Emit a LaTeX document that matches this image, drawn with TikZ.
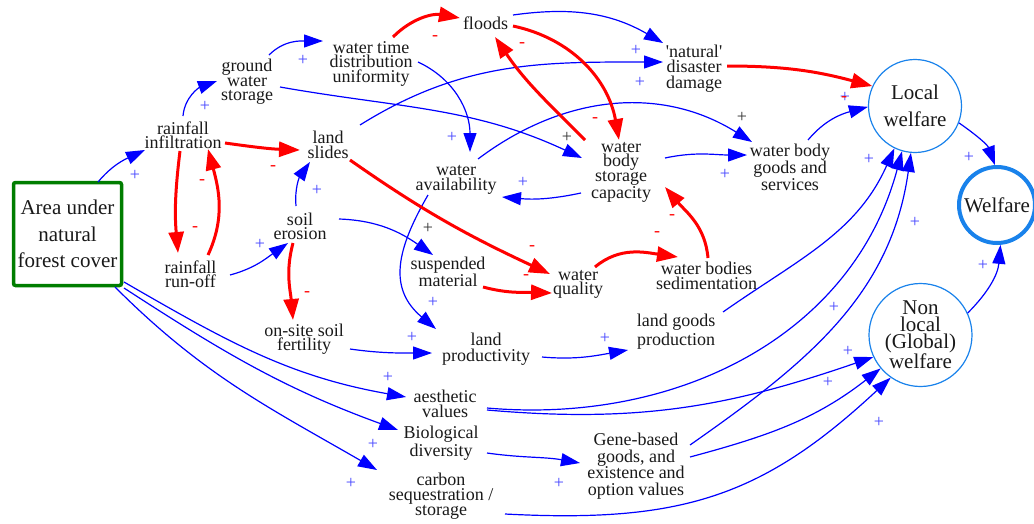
\documentclass[tikz,border=0pt]{standalone}
\usepackage{fontspec}
\setmainfont{Liberation Serif}
\usetikzlibrary{arrows.meta}
\definecolor{cblue}{RGB}{25,130,235}
\definecolor{lblue}{RGB}{70,70,255}
\definecolor{fgreen}{RGB}{0,125,0}
\begin{document}
\begin{tikzpicture}[x=1pt,y=1pt,
  var/.style={align=center, inner sep=1pt, text=black!90,
    font=\fontsize{18}{#1}\selectfont},
  var/.default=15,
  welf/.style={circle, draw=cblue, line width=1.2pt, align=center, inner sep=0pt,
    text=black!90, font=\fontsize{21}{#1}\selectfont},
  welf/.default=27,
  plink/.style={draw=blue, line width=1.2pt, -{Triangle[length=19pt,width=13pt]}},
  nlink/.style={draw=red, line width=3pt, -{Triangle[length=21pt,width=15pt]}},
  pp/.style={inner sep=0pt, text=lblue, font=\fontsize{18}{18}\selectfont},
  pk/.style={inner sep=0pt, text=black!80, font=\fontsize{18}{18}\selectfont},
  pm/.style={inner sep=0pt, text=red, font=\fontsize{18}{18}\selectfont},
]
\useasboundingbox (0,0) rectangle (1034,-523);

% ---- variables ----
\node[draw=fgreen, line width=3.5pt, rounded corners=2pt, minimum width=108pt,
      minimum height=103pt, align=center, text=black!90,
      font=\fontsize{21}{26.5}\selectfont] (forest) at (67.5,-234)
      {Area under\\natural\\forest cover};
\node[var=14] (infil) at (183,-135) {rainfall\\infiltration};
\node[var=14] (ground) at (247,-82) {ground\\water\\storage};
\node[var=14.5] (wtd) at (371,-63.5) {water time\\distribution\\uniformity};
\node[var] (floods) at (485.5,-23) {floods};
\node[var=15.5] (ndd) at (694,-68.5) {\textquotesingle natural\textquotesingle\\disaster\\damage};
\node[var=15.3] (ls) at (328,-145) {land\\slides};
\node[var=14] (runoff) at (190.5,-274.7) {rainfall\\run-off};
\node[var=14] (erosion) at (300,-226.5) {soil\\erosion};
\node[var=14] (fert) at (304,-339) {on-site soil\\fertility};
\node[var=15.7] (wa) at (456,-180) {water\\availability};
\node[var=14] (wbsc) at (621,-172) {water\\body\\storage\\capacity};
\node[var=14.2] (wbgs) at (790,-167) {water body\\goods and\\services};
\node[var=13] (susp) at (448,-272) {suspended\\material};
\node[var=14] (wq) at (578,-284) {water\\quality};
\node[var=15.3] (wbs) at (706.5,-276) {water bodies\\sedimentation};
\node[var=16] (lp) at (486,-349) {land\\productivity};
\node[var=19.3] (lgp) at (676,-332) {land goods\\production};
\node[var=15] (aes) at (445,-404) {aesthetic\\values};
\node[var=18.3] (bio) at (441,-443) {Biological\\diversity};
\node[var=15] (carbon) at (441,-496) {carbon\\sequestration /\\storage};
\node[var=16.5] (gene) at (636,-466) {Gene-based\\goods, and\\existence and\\option values};
\node[welf, minimum size=93pt] (LW) at (915,-106) {Local\\welfare};
\node[welf=17, minimum size=103pt] (NL) at (920.5,-335) {Non\\local\\(Global)\\welfare};
\node[welf, line width=4pt, minimum size=76pt] (W) at (997,-205) {Welfare};

% ---- positive links ----
\draw[plink] ([shift={(30.5,52)}]forest.center) to[out=50,in=205] ([shift={(-38,-15)}]infil.center);
\draw[plink] ([shift={(0,19)}]infil.center) to[out=85,in=200] ([shift={(-30,1)}]ground.center);
\draw[plink] ([shift={(22,27)}]ground.center) to[out=45,in=180] ([shift={(-48,22.5)}]wtd.center);
\draw[plink] ([shift={(33,-5)}]ground.center) to[out=-10,in=155] ([shift={(-39,14)}]wbsc.center);
\draw[plink] ([shift={(39.5,-0.3)}]runoff.center) to[out=15,in=215] ([shift={(-12,-16.5)}]erosion.center);
\draw[plink] ([shift={(-4,20.5)}]erosion.center) to[out=95,in=235] ([shift={(-18,-17)}]ls.center);
\draw[plink] ([shift={(39,7.5)}]erosion.center) to[out=-2,in=145] ([shift={(-15,17)}]susp.center);
\draw[plink] ([shift={(32,20)}]ls.center) to[out=32,in=180] ([shift={(-31,6.5)}]ndd.center);
\draw[plink] ([shift={(27.5,8)}]floods.center) to[out=8,in=150] ([shift={(-31,25.5)}]ndd.center);
\draw[plink] ([shift={(47,1.5)}]wtd.center) to[out=-25,in=90] ([shift={(14,28)}]wa.center);
\draw[plink] ([shift={(-40,-21)}]wbsc.center) to[out=192,in=-5] ([shift={(46,-17)}]wa.center);
\draw[plink] ([shift={(44,14)}]wbsc.center) to[out=12,in=180] ([shift={(-43,12)}]wbgs.center);
\draw[plink] ([shift={(22,21)}]wa.center) to[out=37,in=148] ([shift={(-38,25)}]wbgs.center);
\draw[plink] ([shift={(-28,-15)}]wa.center) to[out=-120,in=140,looseness=1.2] ([shift={(-50,20)}]lp.center);
\draw[plink] ([shift={(46,-10)}]fert.center) to[out=-8,in=180] ([shift={(-54,-4)}]lp.center);
\draw[plink] ([shift={(56,-8)}]lp.center) to[out=-5,in=190] ([shift={(-48,-18)}]lgp.center);
\draw[plink] ([shift={(47,20)}]lgp.center) to[out=35,in=246] (LW.244);
\draw[plink] ([shift={(42,-4)}]aes.center) to[out=-5,in=255] (LW.254);
\draw[plink] ([shift={(42,-6)}]aes.center) to[out=-5,in=199] (NL.205);
\draw[plink] ([shift={(54,21)}]gene.center) to[out=35,in=262] (LW.265);
\draw[plink] ([shift={(54,9)}]gene.center) to[out=15,in=218] (NL.220);
\draw[plink] ([shift={(64,-18)}]carbon.center) to[out=-3,in=223,looseness=1.1] (NL.235);
\draw[plink] ([shift={(46,-10)}]bio.center) to[out=-8,in=170] ([shift={(-56,3)}]gene.center);
\draw[plink] ([shift={(56.5,-48)}]forest.center) to[out=-30,in=170] ([shift={(-39,7)}]aes.center);
\draw[plink] ([shift={(56.5,-54)}]forest.center) to[out=-33,in=160] ([shift={(-43,13)}]bio.center);
\draw[plink] ([shift={(47.5,-53)}]forest.center) to[out=-45,in=150] ([shift={(-64,26)}]carbon.center);
\draw[plink] ([shift={(18,27)}]wbgs.center) to[out=50,in=195] (LW.181);
\draw[plink] (LW.-21) to[out=-35,in=110] (W.93);
\draw[plink] (NL.25) to[out=45,in=-95] (W.-85);

% ---- negative links ----
\draw[nlink] ([shift={(42,-8)}]infil.center) to[out=-8,in=178] ([shift={(-28,-5)}]ls.center);
\draw[nlink] ([shift={(-3,-16)}]infil.center) to[out=-97,in=95] ([shift={(-12.5,21.7)}]runoff.center);
\draw[nlink] ([shift={(17.5,19.7)}]runoff.center) to[out=65,in=-75] ([shift={(25,-14)}]infil.center);
\draw[nlink] ([shift={(-7,-16.5)}]erosion.center) to[out=-105,in=95] ([shift={(-11,19)}]fert.center);
\draw[nlink] ([shift={(22,-15)}]ls.center) to[out=-35,in=155] ([shift={(-28,10)}]wq.center);
\draw[nlink] ([shift={(22,26.5)}]wtd.center) to[out=45,in=170] ([shift={(-25.5,5)}]floods.center);
\draw[nlink] ([shift={(27.5,-3)}]floods.center) to[out=-12,in=100] ([shift={(-2,32)}]wbsc.center);
\draw[nlink] ([shift={(-36,32)}]wbsc.center) to[out=135,in=-56] ([shift={(9.5,-14)}]floods.center);
\draw[nlink] ([shift={(35,-15)}]susp.center) to[out=-15,in=178] ([shift={(-26,-9)}]wq.center);
\draw[nlink] ([shift={(17,17)}]wq.center) to[out=40,in=172] ([shift={(-28.5,19)}]wbs.center);
\draw[nlink] ([shift={(1.5,18)}]wbs.center) to[out=95,in=-50] ([shift={(44,-15)}]wbsc.center);
\draw[nlink] ([shift={(33,2.5)}]ndd.center) to[out=0,in=165] (LW.155);

% ---- polarity marks ----
\node[pp] (p1) at (135,-175) {+};
\node[pp] (p2) at (205,-106) {+};
\node[pp] (p3) at (303,-60) {+};
\node[pp] (p4) at (260,-244) {+};
\node[pp] (p5) at (317,-190) {+};
\node[pp] (p6) at (433,-302) {+};
\node[pp] (p7) at (412,-337) {+};
\node[pp] (p8) at (452,-137) {+};
\node[pp] (p9) at (523,-182) {+};
\node[pp] (p10) at (636,-50) {+};
\node[pp] (p11) at (640,-82) {+};
\node[pp] (p12) at (725,-174) {+};
\node[pp] (p13) at (845,-97) {+};
\node[pp] (p14) at (869,-159) {+};
\node[pp] (p15) at (915,-222) {+};
\node[pp] (p16) at (969,-157) {+};
\node[pp] (p17) at (983,-265) {+};
\node[pp] (p18) at (834,-307) {+};
\node[pp] (p19) at (848,-351) {+};
\node[pp] (p20) at (828,-382) {+};
\node[pp] (p21) at (879,-422) {+};
\node[pp] (p22) at (605,-338) {+};
\node[pp] (p23) at (559,-483) {+};
\node[pp] (p24) at (388,-377) {+};
\node[pp] (p25) at (373,-444) {+};
\node[pp] (p26) at (351,-483) {+};
\node[pk] (k1) at (567,-137) {+};
\node[pk] (k2) at (742,-117) {+};
\node[pk] (k3) at (428,-228) {+};
\node[pm] (m1) at (273,-168) {-};
\node[pm] (m2) at (202,-182) {-};
\node[pm] (m3) at (195,-229) {-};
\node[pm] (m4) at (307,-294) {-};
\node[pm] (m5) at (435,-38) {-};
\node[pm] (m6) at (522,-45) {-};
\node[pm] (m7) at (595,-120) {-};
\node[pm] (m8) at (532,-248) {-};
\node[pm] (m9) at (526,-277) {-};
\node[pm] (m10) at (657,-234) {-};
\node[pm] (m11) at (672,-217) {-};
\node[pm] (m12) at (844,-99) {-};
\end{tikzpicture}
\end{document}
